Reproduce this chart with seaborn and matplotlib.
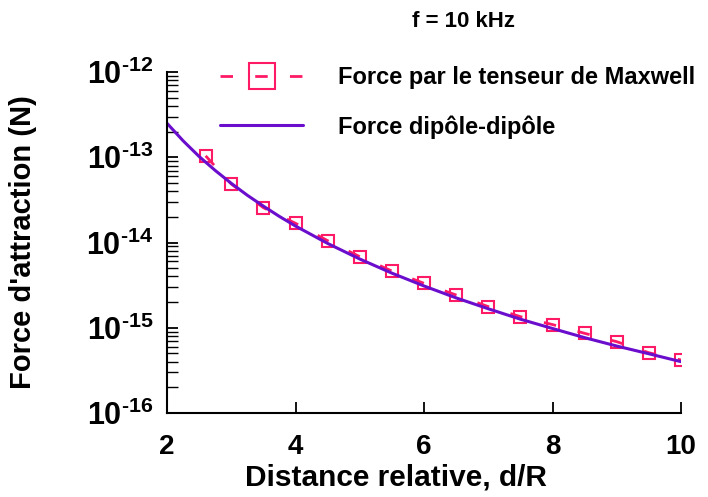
import matplotlib
matplotlib.use("Agg")
import matplotlib.pyplot as plt
import seaborn as sns
import pandas as pd
from matplotlib.ticker import LogLocator, NullFormatter, FixedLocator

# values
maxwell_d = [2.6, 3.0, 3.5, 4.0, 4.5, 5.0, 5.5, 6.0, 6.5, 7.0, 7.5, 8.0, 8.5, 9.0, 9.5, 10.0]
maxwell_f = [1.04e-13, 4.85e-14, 2.56e-14, 1.68e-14, 1.05e-14, 6.82e-15, 4.63e-15, 3.32e-15,
             2.42e-15, 1.77e-15, 1.35e-15, 1.09e-15, 8.6e-16, 6.86e-16, 5.09e-16, 4.19e-16]

dipole_d = [2.0, 2.25, 2.5, 2.75, 3.0, 3.25, 3.5, 3.75, 4.0, 4.5, 5.0, 5.5, 6.0,
            6.5, 7.0, 7.5, 8.0, 8.5, 9.0, 9.5, 10.0]
dipole_f = [2.5e-13, 1.56e-13, 1.02e-13, 7.0e-14, 4.94e-14, 3.58e-14, 2.67e-14, 2.02e-14,
            1.56e-14, 9.75e-15, 6.4e-15, 4.37e-15, 3.09e-15, 2.24e-15, 1.67e-15,
            1.26e-15, 9.8e-16, 7.65e-16, 6.1e-16, 4.95e-16, 4.0e-16]

labels = ["Force par le tenseur de Maxwell", "Force dipôle-dipôle"]
xticks = [2, 4, 6, 8, 10]
yexps = [-16, -15, -14, -13, -12]

sns.set_style("ticks", {'axes.edgecolor': 'black', 'text.color': 'black',
                        'axes.labelcolor': 'black', 'xtick.color': 'black',
                        'ytick.color': 'black'})
plt.rcParams['font.family'] = ['Liberation Sans', 'DejaVu Sans']
plt.rcParams['font.weight'] = 'bold'
plt.rcParams['mathtext.fontset'] = 'custom'
plt.rcParams['mathtext.rm'] = 'Liberation Sans:bold'
plt.rcParams['mathtext.bf'] = 'Liberation Sans:bold'
plt.rcParams['mathtext.default'] = 'rm'

pink = '#ff1a66'
purple = '#6a0dcc'

df_max = pd.DataFrame({'d': maxwell_d, 'F': maxwell_f})
df_dip = pd.DataFrame({'d': dipole_d, 'F': dipole_f})

fig = plt.figure(figsize=(7.08, 4.97), dpi=100)
ax = fig.add_axes([0.236, 0.169, 0.726, 0.686])

sns.lineplot(data=df_max, x='d', y='F', ax=ax, color=pink, lw=2,
             dashes=False, linestyle=(0, (4.5, 8)), marker='s', markersize=8,
             markerfacecolor='none', markeredgecolor=pink, markeredgewidth=1.5,
             label=labels[0])
sns.lineplot(data=df_dip, x='d', y='F', ax=ax, color=purple, lw=2.2, label=labels[1])

ax.set_yscale('log')
ax.set_xlim(2, 10)
ax.set_ylim(1e-16, 1e-12)
ax.xaxis.set_major_locator(FixedLocator(xticks))
ax.set_xticklabels([str(t) for t in xticks])
ax.yaxis.set_minor_locator(LogLocator(base=10, subs=range(2, 10), numticks=10))
ax.yaxis.set_minor_formatter(NullFormatter())
ax.set_yticks([10.0 ** e for e in yexps])
ax.set_yticklabels([r'$\mathbf{10^{\text{-}%d}}$' % -e for e in yexps])

ax.tick_params(axis='both', which='major', direction='in', length=8, width=1.3)
ax.tick_params(axis='x', labelsize=20, pad=15)
ax.tick_params(axis='y', labelsize=22, pad=10)
ax.tick_params(axis='y', which='minor', direction='in', length=8, width=1.0)
for s in ['left', 'bottom']:
    ax.spines[s].set_linewidth(1.5)
sns.despine(ax=ax)

ax.set_xlabel('Distance relative, d/R', fontsize=21.5, fontweight='bold')
ax.set_ylabel("Force d'attraction (N)", fontsize=21, fontweight='bold')
ax.xaxis.set_label_coords(0.445, -0.147)
ax.yaxis.set_label_coords(-0.253, 0.5)

leg = ax.legend(loc='upper left', bbox_to_anchor=(0.062, 1.08), frameon=False,
                handlelength=3.5, handletextpad=1.5, labelspacing=1.1,
                markerscale=2.4, prop={'weight': 'bold', 'size': 17})

fig.text(0.655, 0.957, 'f = 10 kHz', ha='center', va='center', fontsize=16, fontweight='bold')

fig.savefig('out.png', dpi=100)
